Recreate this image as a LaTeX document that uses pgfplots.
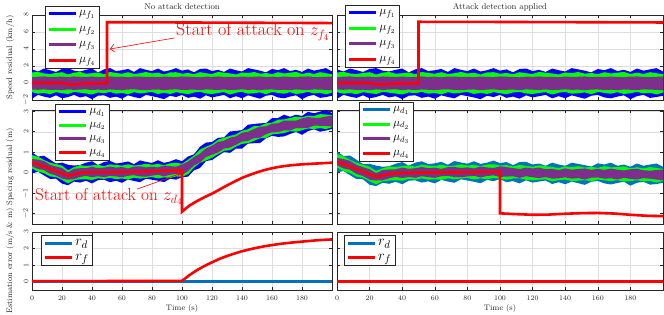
\documentclass[border=0pt]{standalone}
\usepackage{pgfplots}
\pgfplotsset{compat=1.18}
\usepackage{pgfplotstable}
\usepgfplotslibrary{fillbetween}
\usetikzlibrary{arrows.meta}

\definecolor{mblue}{RGB}{0,114,189}
\definecolor{mpurple}{RGB}{126,47,142}
\definecolor{mgreen}{RGB}{0,255,0}
\definecolor{mred}{RGB}{255,0,0}
\definecolor{axgray}{RGB}{38,38,38}

% speed residual bands (edges of the noisy signals)
\pgfplotstableread{
t bu bl gu gl pu pl
0 1.60 -1.85 1.24 -1.08 0.67 -0.77
4 1.35 -1.40 1.30 -1.26 0.74 -0.80
8 1.70 -1.60 1.12 -1.17 0.77 -0.75
12 1.50 -1.75 1.06 -1.32 0.70 -0.82
16 1.30 -1.45 1.18 -1.08 0.72 -0.79
20 1.65 -1.80 1.27 -1.20 0.75 -0.84
24 1.75 -1.65 1.00 -1.29 0.68 -0.76
28 1.45 -1.40 1.21 -1.05 0.77 -0.81
32 1.35 -1.70 1.30 -1.14 0.73 -0.78
36 1.55 -1.55 1.09 -1.23 0.70 -0.75
40 1.70 -1.90 1.15 -1.35 0.76 -0.83
44 1.25 -1.50 1.24 -1.11 0.69 -0.78
48 1.60 -1.45 1.03 -1.20 0.72 -0.83
52 1.75 -1.75 1.30 -1.05 0.77 -0.76
56 1.40 -1.60 1.18 -1.26 0.71 -0.80
60 1.50 -1.85 1.09 -1.17 0.74 -0.84
64 1.65 -1.45 1.27 -1.32 0.67 -0.77
68 1.30 -1.65 1.06 -1.08 0.75 -0.75
72 1.75 -1.80 1.15 -1.23 0.76 -0.81
76 1.55 -1.40 1.30 -1.14 0.70 -0.83
80 1.40 -1.55 1.12 -1.05 0.73 -0.79
84 1.70 -1.70 1.21 -1.29 0.68 -0.76
88 1.35 -1.90 1.00 -1.14 0.76 -0.85
92 1.50 -1.50 1.24 -1.29 0.72 -0.78
96 1.75 -1.65 1.27 -1.08 0.69 -0.75
100 1.45 -1.40 1.09 -1.20 0.77 -0.82
104 1.60 -1.75 1.18 -1.32 0.74 -0.80
108 1.25 -1.60 1.03 -1.11 0.71 -0.77
112 1.65 -1.85 1.27 -1.05 0.67 -0.84
116 1.70 -1.45 1.15 -1.23 0.75 -0.75
120 1.40 -1.70 1.06 -1.29 0.72 -0.79
124 1.55 -1.55 1.30 -1.17 0.77 -0.82
128 1.30 -1.40 1.21 -1.08 0.70 -0.76
132 1.70 -1.80 1.12 -1.35 0.73 -0.83
136 1.50 -1.55 1.00 -1.14 0.68 -0.80
140 1.35 -1.80 1.24 -1.05 0.76 -0.75
144 1.75 -1.45 1.15 -1.26 0.71 -0.81
148 1.60 -1.65 1.30 -1.20 0.74 -0.78
152 1.45 -1.85 1.09 -1.11 0.77 -0.85
156 1.25 -1.50 1.18 -1.32 0.69 -0.77
160 1.65 -1.40 1.03 -1.05 0.74 -0.76
164 1.50 -1.70 1.27 -1.17 0.69 -0.82
168 1.75 -1.80 1.12 -1.26 0.76 -0.79
172 1.40 -1.60 1.21 -1.08 0.72 -0.84
176 1.55 -1.45 1.30 -1.29 0.68 -0.76
180 1.30 -1.90 1.06 -1.20 0.75 -0.80
184 1.70 -1.55 1.21 -1.05 0.77 -0.83
188 1.45 -1.40 1.06 -1.23 0.71 -0.75
192 1.60 -1.75 1.27 -1.14 0.69 -0.78
196 1.75 -1.65 1.15 -1.35 0.73 -0.81
200 1.35 -1.50 1.03 -1.11 0.76 -0.85
}\topdata

% spacing residual: band centres (left, right) and band edge offsets
\pgfplotstableread{
t cL cR bu bl gu gl pu pl
0 0.50 0.55 0.49 -0.53 0.36 -0.29 0.17 -0.19
4 0.40 0.43 0.39 -0.35 0.38 -0.35 0.24 -0.22
8 0.30 0.31 0.53 -0.43 0.32 -0.32 0.27 -0.17
12 0.19 0.18 0.45 -0.49 0.30 -0.37 0.20 -0.24
16 0.08 0.05 0.37 -0.37 0.34 -0.29 0.22 -0.21
20 -0.02 -0.08 0.51 -0.51 0.37 -0.33 0.25 -0.26
24 -0.16 -0.20 0.55 -0.45 0.28 -0.36 0.18 -0.18
28 -0.08 -0.14 0.43 -0.35 0.35 -0.28 0.27 -0.23
32 -0.01 -0.07 0.39 -0.47 0.38 -0.31 0.23 -0.20
36 0.02 -0.03 0.47 -0.41 0.31 -0.34 0.20 -0.17
40 0.03 -0.01 0.53 -0.55 0.33 -0.38 0.26 -0.25
44 0.03 0.00 0.35 -0.39 0.36 -0.30 0.19 -0.20
48 0.03 0.00 0.49 -0.37 0.29 -0.33 0.22 -0.25
52 0.03 0.01 0.55 -0.49 0.38 -0.28 0.27 -0.18
56 0.04 0.01 0.41 -0.43 0.34 -0.35 0.21 -0.22
60 0.04 0.01 0.45 -0.53 0.31 -0.32 0.24 -0.26
64 0.04 0.02 0.51 -0.37 0.37 -0.37 0.17 -0.19
68 0.05 0.02 0.37 -0.45 0.30 -0.29 0.25 -0.17
72 0.05 0.02 0.55 -0.51 0.33 -0.34 0.26 -0.23
76 0.06 0.03 0.47 -0.35 0.38 -0.31 0.20 -0.25
80 0.07 0.03 0.41 -0.41 0.32 -0.28 0.23 -0.21
84 0.08 0.03 0.53 -0.47 0.35 -0.36 0.18 -0.18
88 0.09 0.04 0.39 -0.55 0.28 -0.31 0.26 -0.27
92 0.10 0.04 0.45 -0.39 0.36 -0.36 0.22 -0.20
96 0.11 0.04 0.55 -0.45 0.37 -0.29 0.19 -0.17
100 0.13 0.04 0.43 -0.35 0.31 -0.33 0.27 -0.24
104 0.30 0.03 0.49 -0.49 0.34 -0.37 0.24 -0.22
108 0.55 0.02 0.35 -0.43 0.29 -0.30 0.21 -0.19
112 0.76 0.01 0.51 -0.53 0.37 -0.28 0.17 -0.26
116 0.94 0.00 0.53 -0.37 0.33 -0.34 0.25 -0.17
120 1.09 -0.01 0.41 -0.47 0.30 -0.36 0.22 -0.21
124 1.23 -0.02 0.47 -0.41 0.38 -0.32 0.27 -0.24
128 1.36 -0.03 0.37 -0.35 0.35 -0.29 0.20 -0.18
132 1.48 -0.04 0.53 -0.51 0.32 -0.38 0.23 -0.25
136 1.59 -0.05 0.45 -0.41 0.28 -0.31 0.18 -0.22
140 1.69 -0.05 0.39 -0.51 0.36 -0.28 0.26 -0.17
144 1.79 -0.06 0.55 -0.37 0.33 -0.35 0.21 -0.23
148 1.89 -0.06 0.49 -0.45 0.38 -0.33 0.24 -0.20
152 1.98 -0.06 0.43 -0.53 0.31 -0.30 0.27 -0.27
156 2.07 -0.05 0.35 -0.39 0.34 -0.37 0.19 -0.19
160 2.15 -0.05 0.51 -0.35 0.29 -0.28 0.24 -0.18
164 2.22 -0.05 0.45 -0.47 0.37 -0.32 0.19 -0.24
168 2.28 -0.06 0.55 -0.51 0.32 -0.35 0.26 -0.21
172 2.32 -0.07 0.41 -0.43 0.35 -0.29 0.22 -0.26
176 2.36 -0.07 0.47 -0.37 0.38 -0.36 0.18 -0.18
180 2.40 -0.08 0.37 -0.55 0.30 -0.33 0.25 -0.22
184 2.44 -0.08 0.53 -0.41 0.35 -0.28 0.27 -0.25
188 2.47 -0.09 0.43 -0.35 0.30 -0.34 0.21 -0.17
192 2.49 -0.09 0.49 -0.49 0.37 -0.31 0.19 -0.20
196 2.51 -0.10 0.55 -0.45 0.33 -0.38 0.23 -0.23
200 2.52 -0.10 0.39 -0.39 0.29 -0.30 0.26 -0.27
}\middata

\newcommand{\band}[5]{%
  \addplot[draw=none, forget plot, name path=#5u] table[x=t, y expr=#2]{#1};
  \addplot[draw=none, forget plot, name path=#5l] table[x=t, y expr=#3]{#1};
  \addplot[fill=#4, draw=none, forget plot] fill between[of=#5u and #5l];
}

\pgfplotsset{
  every axis title shift=0pt,
  base/.style={
    scale only axis, xmin=0, xmax=200, xtick={0,20,...,180},
    grid=major, grid style={black!13, line width=0.4pt},
    axis line style={axgray, line width=0.5pt},
    tick style={axgray, line width=0.5pt},
    tick align=inside, major tick length=3pt,
    ticklabel style={font=\fontsize{7}{7}\selectfont, text=axgray},
    yticklabel style={rotate=90, anchor=south},
    xticklabel style={yshift=-2pt},
    label style={font=\fontsize{8}{8}\selectfont, text=axgray},
    title style={font=\fontsize{8.5}{8.5}\selectfont, text=axgray, at={(axis description cs:0.5,1)}, anchor=center, yshift=8pt},
    ylabel style={at={(axis description cs:-0.073,0.5)}, anchor=center},
    xlabel style={at={(axis description cs:0.5,0)}, anchor=center, yshift=-19pt},
    legend cell align=left,
    legend style={draw=axgray, fill=white, line width=0.5pt, inner xsep=2pt, inner ysep=2.5pt,
      nodes={inner xsep=2pt, inner ysep=1.5pt}},
    legend image code/.code={\draw[##1, line width=3pt] (0pt,0pt) -- (27pt,0pt);},
  },
}

\begin{document}
\begin{tikzpicture}

% ---------------- top left ----------------
\begin{axis}[base, at={(32pt,215pt)}, anchor=south west, width=300pt, height=85pt,
  ymin=-2, ymax=8, ytick={-2,0,2,4,6,8}, xticklabels={},
  title={No attack detection}, ylabel={Speed residual (km/h)},
  legend style={at={(axis description cs:0.043,1.106)}, anchor=north west, font=\fontsize{13}{13}\selectfont, row sep=6pt}]
\band{\topdata}{\thisrow{bu}}{\thisrow{bl}}{blue}{tla}
\band{\topdata}{\thisrow{gu}}{\thisrow{gl}}{mgreen}{tlb}
\band{\topdata}{\thisrow{pu}}{\thisrow{pl}}{mpurple}{tlc}
\addplot[mred, line width=2.6pt, forget plot] coordinates {(0,0) (20,0) (25,-0.18) (30,-0.15) (36,-0.06) (50,-0.03) (50,7.15) (100,7.12) (200,7.05)};
\addlegendimage{blue}\addlegendentry{$\mu_{f_1}$\hspace{8pt}}
\addlegendimage{mgreen}\addlegendentry{$\mu_{f_2}$}
\addlegendimage{mpurple}\addlegendentry{$\mu_{f_3}$}
\addlegendimage{mred}\addlegendentry{$\mu_{f_4}$}
\node[anchor=west, text=mred, font=\fontsize{18}{18}\selectfont, inner sep=0pt] at (axis cs:96,6.0) {Start of attack on $z_{f_4}$};
\draw[mred, line width=0.6pt, -{Straight Barb[length=4pt]}] (axis cs:95,5.3) -- (axis cs:52,4.0);
\end{axis}

% ---------------- top right ----------------
\begin{axis}[base, at={(337pt,215pt)}, anchor=south west, width=326pt, height=85pt,
  ymin=-2, ymax=8, ytick={-2,0,2,4,6,8}, xticklabels={}, yticklabels={},
  title={Attack detection applied},
  legend style={at={(axis description cs:0.025,1.118)}, anchor=north west, font=\fontsize{13}{13}\selectfont, row sep=6pt}]
\band{\topdata}{\thisrow{bu}}{\thisrow{bl}}{blue}{tra}
\band{\topdata}{\thisrow{gu}}{\thisrow{gl}}{mgreen}{trb}
\band{\topdata}{\thisrow{pu}}{\thisrow{pl}}{mpurple}{trc}
\addplot[mred, line width=2.6pt, forget plot] coordinates {(0,0) (20,0) (25,-0.18) (30,-0.15) (36,-0.06) (50,-0.03) (50,7.2) (100,7.18) (200,7.12)};
\addlegendimage{blue}\addlegendentry{$\mu_{f_1}$}
\addlegendimage{mgreen}\addlegendentry{$\mu_{f_2}$}
\addlegendimage{mpurple}\addlegendentry{$\mu_{f_3}$}
\addlegendimage{mred}\addlegendentry{$\mu_{f_4}$}
\end{axis}

% ---------------- middle left ----------------
\begin{axis}[base, at={(32pt,91pt)}, anchor=south west, width=300pt, height=114pt,
  ymin=-2.5, ymax=3.06, ytick={-2,-1,0,1,2,3}, xticklabels={},
  ylabel={Spacing residual (m)},
  legend style={at={(axis description cs:0.077,1.053)}, anchor=north west, font=\fontsize{11.5}{11.5}\selectfont, row sep=4pt}]
\band{\middata}{\thisrow{cL}+\thisrow{bu}}{\thisrow{cL}+\thisrow{bl}}{blue}{mla}
\band{\middata}{\thisrow{cL}+\thisrow{gu}}{\thisrow{cL}+\thisrow{gl}}{mgreen}{mlb}
\band{\middata}{\thisrow{cL}+\thisrow{pu}}{\thisrow{cL}+\thisrow{pl}}{mpurple}{mlc}
\addplot[mred, line width=2.6pt, forget plot] coordinates {(0,0.50) (4,0.40) (8,0.30) (12,0.19) (16,0.08) (20,-0.02) (24,-0.16) (28,-0.08) (32,-0.01) (36,0.02) (40,0.03) (52,0.03) (64,0.04) (76,0.06) (88,0.09) (96,0.11) (100,0.13) (100,-1.90) (105,-1.60) (110,-1.38) (115,-1.19) (120,-1.02) (125,-0.82) (130,-0.62) (135,-0.43) (140,-0.25) (145,-0.11) (150,0.02) (155,0.13) (160,0.22) (165,0.29) (170,0.34) (175,0.38) (180,0.41) (185,0.43) (190,0.45) (195,0.47) (200,0.49)};
\addlegendimage{blue}\addlegendentry{$\mu_{d_1}$}
\addlegendimage{mgreen}\addlegendentry{$\mu_{d_2}$}
\addlegendimage{mpurple}\addlegendentry{$\mu_{d_3}$}
\addlegendimage{mred}\addlegendentry{$\mu_{d_4}$}
\node[anchor=west, text=mred, font=\fontsize{17.2}{17.2}\selectfont, inner sep=0pt] at (axis cs:2,-1.17) {Start of attack on $z_{d_4}$};
\draw[mred, line width=0.6pt, -{Straight Barb[length=4pt]}] (axis cs:70,-0.8) -- (axis cs:98.5,-0.05);
\end{axis}

% ---------------- middle right ----------------
\begin{axis}[base, at={(337pt,91pt)}, anchor=south west, width=326pt, height=114pt,
  ymin=-2.5, ymax=3.06, ytick={-2,-1,0,1,2,3}, xticklabels={}, yticklabels={},
  legend style={at={(axis description cs:0.067,1.07)}, anchor=north west, font=\fontsize{11.5}{11.5}\selectfont, row sep=5pt}]
\band{\middata}{\thisrow{cR}+\thisrow{bu}}{\thisrow{cR}+\thisrow{bl}}{mblue}{mra}
\band{\middata}{\thisrow{cR}+\thisrow{gu}}{\thisrow{cR}+\thisrow{gl}}{mgreen}{mrb}
\band{\middata}{\thisrow{cR}+\thisrow{pu}}{\thisrow{cR}+\thisrow{pl}}{mpurple}{mrc}
\addplot[mred, line width=2.6pt, forget plot] coordinates {(0,0.55) (4,0.43) (8,0.31) (12,0.18) (16,0.05) (20,-0.08) (24,-0.20) (28,-0.14) (32,-0.07) (36,-0.03) (40,-0.01) (60,0.01) (80,0.03) (100,0.05) (100,-1.98) (110,-2.02) (120,-2.05) (130,-2.04) (140,-2.00) (150,-1.97) (160,-1.96) (170,-1.99) (180,-2.05) (190,-2.10) (200,-2.12)};
\addlegendimage{mblue}\addlegendentry{$\mu_{d_1}$}
\addlegendimage{mgreen}\addlegendentry{$\mu_{d_2}$}
\addlegendimage{mpurple}\addlegendentry{$\mu_{d_3}$}
\addlegendimage{mred}\addlegendentry{$\mu_{d_4}$}
\end{axis}

% ---------------- bottom left ----------------
\begin{axis}[base, at={(32pt,25pt)}, anchor=south west, width=300pt, height=58pt,
  ymin=-0.5, ymax=3, ytick={0,1,2,3},
  xlabel={Time (s)}, ylabel={Estimation error (m/s \& m)},
  legend style={at={(axis description cs:0.03,0.948)}, anchor=north west, font=\fontsize{15}{15}\selectfont, row sep=4pt}]
\addplot[mblue, line width=2.6pt] coordinates {(0,0) (100,0) (200,0)};
\addlegendentry{$r_d$}
\addplot[mred, line width=2.6pt] coordinates {(0,0.03) (100,0.05) (105,0.40) (110,0.70) (115,0.95) (120,1.17) (125,1.38) (130,1.55) (135,1.70) (140,1.84) (145,1.95) (150,2.05) (155,2.14) (160,2.21) (165,2.28) (170,2.33) (175,2.38) (180,2.42) (185,2.46) (190,2.50) (195,2.53) (200,2.55)};
\addlegendentry{$r_f$}
\end{axis}

% ---------------- bottom right ----------------
\begin{axis}[base, at={(337pt,25pt)}, anchor=south west, width=326pt, height=58pt,
  ymin=-0.5, ymax=3, ytick={0,1,2,3}, yticklabels={},
  xlabel={Time (s)},
  legend style={at={(axis description cs:0.021,0.948)}, anchor=north west, font=\fontsize{15}{15}\selectfont, row sep=4pt}]
\addplot[mblue, line width=2.6pt] coordinates {(0,0) (100,0) (200,0)};
\addlegendentry{$r_d$}
\addplot[mred, line width=2.6pt] coordinates {(0,0.03) (100,0.03) (200,0.03)};
\addlegendentry{$r_f$}
\end{axis}

\pgfresetboundingbox
\path[use as bounding box] (0,0) rectangle (664pt,315pt);
\end{tikzpicture}
\end{document}
